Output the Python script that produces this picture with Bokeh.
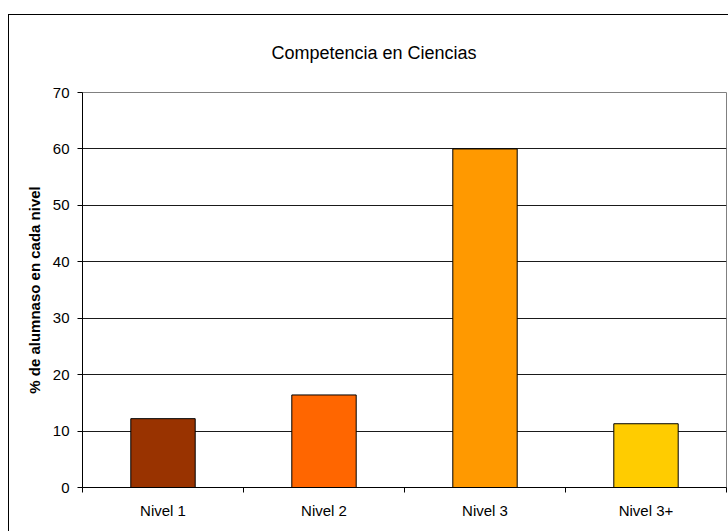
from bokeh.plotting import figure
from bokeh.models import Range1d, FixedTicker, ColumnDataSource
from bokeh.embed import file_html
from bokeh.resources import INLINE

categories = ["Nivel 1", "Nivel 2", "Nivel 3", "Nivel 3+"]
values = [12.2, 16.4, 60.0, 11.3]
colors = ["#993300", "#FF6600", "#FF9900", "#FFCC00"]
y_ticks = [0, 10, 20, 30, 40, 50, 60, 70]

xs = [i + 0.5 for i in range(len(categories))]
src = ColumnDataSource(dict(x=xs, top=values, color=colors, cat=categories))

FONT = "Liberation Sans"

p = figure(width=728, height=531, output_backend="svg", toolbar_location=None,
           x_range=Range1d(0, len(categories)), y_range=Range1d(0, 70),
           min_border_left=82, min_border_right=2, min_border_top=92, min_border_bottom=44)

p.background_fill_color = "white"
p.border_fill_color = None
p.outline_line_color = "#808080"
p.outline_line_width = 1
# outer chart border: left and top edges (right/bottom lie outside the picture)
p.styles = {
    "background": ("linear-gradient(#000, #000) 8px 14px / 1px 700px no-repeat, "
                   "linear-gradient(#000, #000) 8px 14px / 900px 1px no-repeat, "
                   "#ffffff"),
}

p.title.text = "Competencia en Ciencias"
p.title.text_font = FONT
p.title.text_font_size = "18px"
p.title.text_font_style = "normal"
p.title.text_color = "black"
p.title.align = "left"
p.title.offset = 189
p.title.standoff = 60

p.vbar(x="x", top="top", width=0.4, fill_color="color", line_color="black",
       line_width=1, source=src)

# x axis
xa = p.xaxis[0]
xa.ticker = FixedTicker(ticks=xs, minor_ticks=list(range(len(categories) + 1)))
xa.major_label_overrides = {x: c for x, c in zip(xs, categories)}
xa.major_tick_line_color = None
xa.major_tick_out = 0
xa.major_tick_in = 0
xa.minor_tick_line_color = "black"
xa.minor_tick_out = 5
xa.minor_tick_in = 0
xa.axis_line_color = "black"
xa.major_label_text_font = FONT
xa.major_label_text_font_size = "15px"
xa.major_label_text_color = "black"
xa.major_label_standoff = 9

# y axis
ya = p.yaxis[0]
ya.ticker = FixedTicker(ticks=y_ticks)
ya.major_tick_out = 5
ya.major_tick_in = 0
ya.major_tick_line_color = "black"
ya.minor_tick_line_color = None
ya.axis_line_color = "black"
ya.major_label_text_font = FONT
ya.major_label_text_font_size = "15px"
ya.major_label_text_color = "black"
ya.major_label_standoff = 8
ya.axis_label = "% de alumnaso en cada nivel"
ya.axis_label_text_font = FONT
ya.axis_label_text_font_size = "15px"
ya.axis_label_text_font_style = "bold"
ya.axis_label_text_color = "black"
ya.axis_label_standoff = 7

p.xgrid.visible = False
p.ygrid.ticker = FixedTicker(ticks=y_ticks[1:-1])
p.ygrid.grid_line_color = "#1a1a1a"
p.ygrid.grid_line_width = 1

open("out.html", "w").write(file_html(p, INLINE))
